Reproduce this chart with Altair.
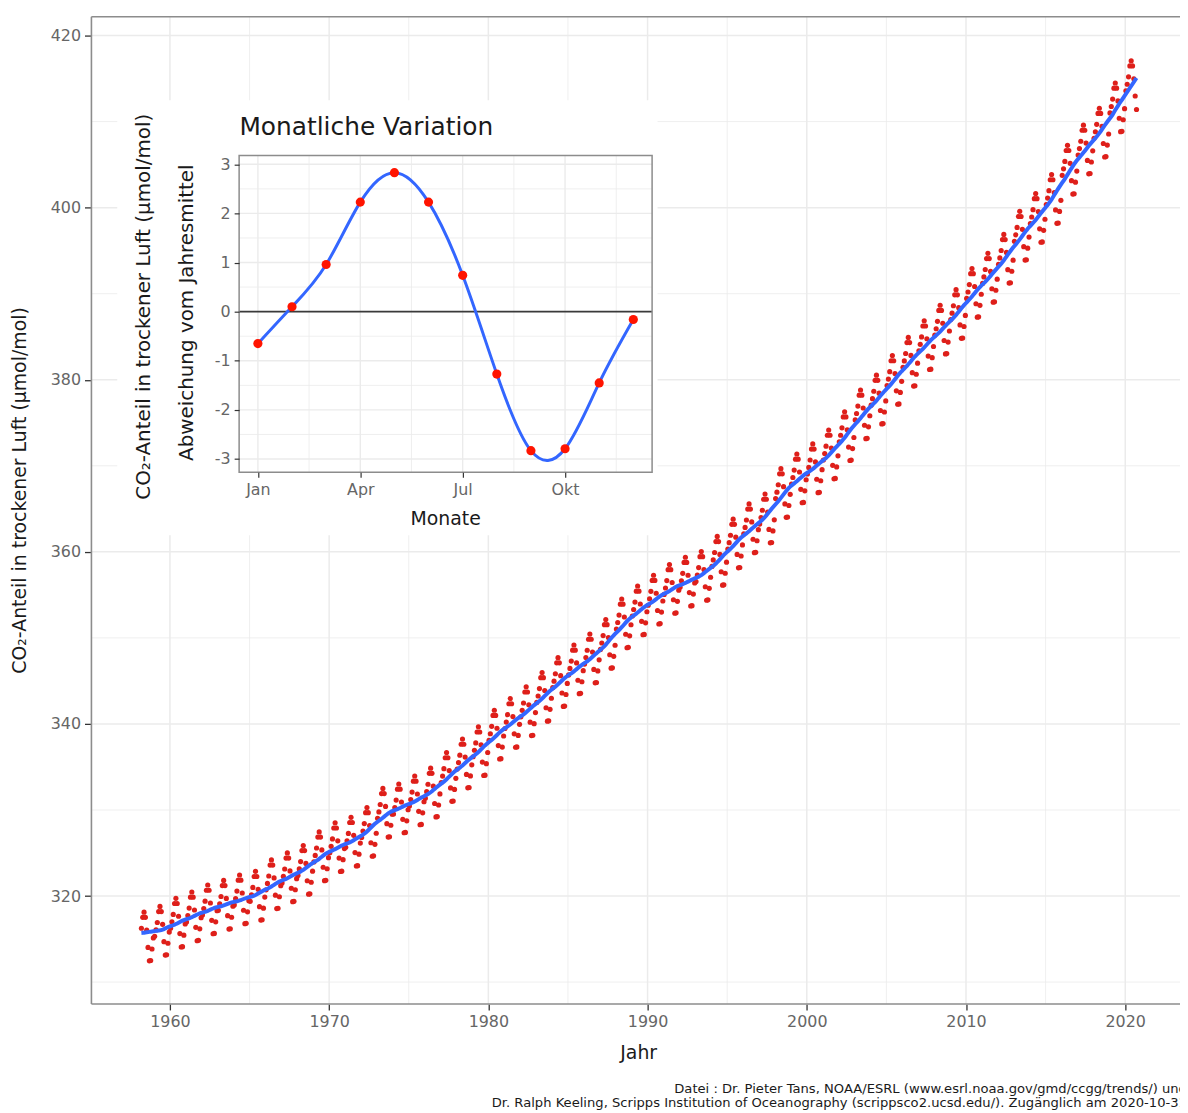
import altair as alt
import pandas as pd

# ---------------- data ----------------
years = list(range(1958, 2021))
annual_co2 = [
    315.30, 315.97, 316.91, 317.64, 318.45, 318.99, 319.62, 320.04, 321.37, 322.18,
    323.05, 324.62, 325.68, 326.32, 327.46, 329.68, 330.19, 331.12, 332.03, 333.84,
    335.41, 336.84, 338.76, 340.12, 341.48, 343.15, 344.87, 346.35, 347.61, 349.31,
    351.69, 353.20, 354.45, 355.70, 356.54, 357.21, 358.96, 360.97, 362.74, 363.88,
    366.84, 368.54, 369.71, 371.32, 373.45, 375.98, 377.70, 379.98, 382.09, 384.02,
    385.83, 387.64, 390.10, 391.85, 394.06, 396.74, 398.81, 401.01, 404.41, 406.76,
    408.72, 411.66, 414.24,
]
months = list(range(1, 13))
month_offsets = [-0.65, 0.10, 0.96, 2.23, 2.83, 2.23, 0.74, -1.27, -2.83, -2.79, -1.45, -0.16]
first_month_first_year = 3
last_month_last_year = 9

x_ticks = [1960, 1970, 1980, 1990, 2000, 2010, 2020]
x_minor = [1965, 1975, 1985, 1995, 2005, 2015]
y_ticks = [320, 340, 360, 380, 400, 420]
y_minor = [310, 330, 350, 370, 390, 410]

inset_x_ticks = [1, 4, 7, 10]
inset_x_labels = ["Jan", "Apr", "Jul", "Okt"]
inset_x_minor = [2.5, 5.5, 8.5, 11.5]
inset_y_ticks = [-3, -2, -1, 0, 1, 2, 3]
inset_y_minor = [-2.5, -1.5, -0.5, 0.5, 1.5, 2.5]

y_title = "CO₂-Anteil in trockener Luft (µmol/mol)"
inset_title = "Monatliche Variation"
inset_y_title2 = "Abweichung vom Jahresmittel"
inset_x_title = "Monate"
x_title = "Jahr"
caption1 = "Datei : Dr. Pieter Tans, NOAA/ESRL (www.esrl.noaa.gov/gmd/ccgg/trends/) und"
caption2 = "Dr. Ralph Keeling, Scripps Institution of Oceanography (scrippsco2.ucsd.edu/). Zugänglich am 2020-10-31"

# ---------------- tables ----------------
rows = []
for yr, base in zip(years, annual_co2):
    for m, off in zip(months, month_offsets):
        if yr == years[0] and m < first_month_first_year:
            continue
        if yr == years[-1] and m > last_month_last_year:
            continue
        rows.append({"t": yr + (m - 0.5) / 12, "co2": round(base + off, 2)})
monthly = pd.DataFrame(rows)
seasonal = pd.DataFrame({"month": months, "dev": month_offsets})

# ---------------- layout ----------------
FONT = "DejaVu Sans"
W, H = 1096, 994
XDOM = [1955.07, 2023.44]
YDOM = [307.46, 422.19]
IX_DOM = [0.45, 12.55]
IX_RANGE = [148.7, 564.5]
IY_DOM = [-3.27, 3.18]
IY_RANGE = [458.7, 139.7]


def xs():
    return alt.Scale(domain=XDOM, nice=False, zero=False)


def ys():
    return alt.Scale(domain=YDOM, nice=False, zero=False)


def ixs():
    return alt.Scale(domain=IX_DOM, range=IX_RANGE, nice=False, zero=False)


def iys():
    return alt.Scale(domain=IY_DOM, range=IY_RANGE, nice=False, zero=False)


GRID = "#ebebeb"
BORDER = "#8c8c8c"
LABEL = "#666666"
BLUE = "#3366FF"

one = pd.DataFrame({"k": [0]})

# ---- main panel ----
def vgrid(vals, width):
    return alt.Chart(pd.DataFrame({"v": vals})).mark_rule(color=GRID, strokeWidth=width).encode(
        x=alt.X("v:Q", scale=xs(), axis=None))


def hgrid(vals, width):
    return alt.Chart(pd.DataFrame({"v": vals})).mark_rule(color=GRID, strokeWidth=width).encode(
        y=alt.Y("v:Q", scale=ys(), axis=None))


xaxis = alt.Axis(values=x_ticks, format="d", title=None, domain=False, grid=False, orient="bottom",
                 tickColor="#333333", tickSize=6, tickWidth=1.3, labelColor=LABEL,
                 labelFont=FONT, labelFontSize=16, labelPadding=4)
yaxis = alt.Axis(values=y_ticks, format="d", title=None, domain=False, grid=False, orient="left",
                 tickColor="#333333", tickSize=7, tickWidth=1.3, labelColor=LABEL,
                 labelFont=FONT, labelFontSize=16, labelPadding=4)

dots = alt.Chart(monthly).mark_circle(color="#de1f1a", size=27, opacity=1).encode(
    x=alt.X("t:Q", scale=xs(), axis=xaxis),
    y=alt.Y("co2:Q", scale=ys(), axis=yaxis),
)
trend = alt.Chart(monthly).transform_loess("t", "co2", bandwidth=0.05).mark_line(
    color=BLUE, strokeWidth=4).encode(
    x=alt.X("t:Q", scale=xs(), axis=None),
    y=alt.Y("co2:Q", scale=ys(), axis=None),
)

main_layers = [
    vgrid(x_minor, 0.8), hgrid(y_minor, 0.8), vgrid(x_ticks, 1.5), hgrid(y_ticks, 1.5),
    dots, trend,
]

# ---- inset ----
bg = alt.Chart(one).mark_rect(color="white").encode(
    x=alt.value(26), x2=alt.value(570), y=alt.value(84), y2=alt.value(522))


def ivgrid(vals, width):
    d = pd.DataFrame({"v": vals, "a": IY_DOM[0], "b": IY_DOM[1]})
    return alt.Chart(d).mark_rule(color=GRID, strokeWidth=width).encode(
        x=alt.X("v:Q", scale=ixs(), axis=None),
        y=alt.Y("a:Q", scale=iys(), axis=None), y2="b:Q")


def ihgrid(vals, width):
    d = pd.DataFrame({"v": vals, "a": IX_DOM[0], "b": IX_DOM[1]})
    return alt.Chart(d).mark_rule(color=GRID, strokeWidth=width).encode(
        y=alt.Y("v:Q", scale=iys(), axis=None),
        x=alt.X("a:Q", scale=ixs(), axis=None), x2="b:Q")


zero_line = alt.Chart(pd.DataFrame({"v": [0], "a": IX_DOM[0], "b": IX_DOM[1]})).mark_rule(
    color="#3a3a3a", strokeWidth=1.8).encode(
    y=alt.Y("v:Q", scale=iys(), axis=None),
    x=alt.X("a:Q", scale=ixs(), axis=None), x2="b:Q")

label_js = "[" + ",".join("'%s'" % s for s in inset_x_labels) + "]"
ixaxis = alt.Axis(values=inset_x_ticks, orient="bottom", offset=IY_RANGE[0] - H, zindex=2,
                  labelExpr=label_js + "[indexof(" + str(inset_x_ticks) + ", datum.value)]",
                  title=None, domain=False, grid=False, tickColor="#333333", tickSize=5,
                  tickWidth=1.2, labelColor=LABEL, labelFont=FONT, labelFontSize=16,
                  labelPadding=4)
iyaxis = alt.Axis(values=inset_y_ticks, orient="left", offset=-IX_RANGE[0], zindex=2,
                  labelExpr="'' + datum.value",
                  title=None, domain=False, grid=False, tickColor="#333333", tickSize=5,
                  tickWidth=1.2, labelColor=LABEL, labelFont=FONT, labelFontSize=16,
                  labelPadding=4)

spline = alt.Chart(seasonal).mark_line(color=BLUE, strokeWidth=3, interpolate="natural").encode(
    x=alt.X("month:Q", scale=ixs(), axis=None),
    y=alt.Y("dev:Q", scale=iys(), axis=None))
ipoints = alt.Chart(seasonal).mark_circle(color="#ff1400", size=85, opacity=1).encode(
    x=alt.X("month:Q", scale=ixs(), axis=ixaxis),
    y=alt.Y("dev:Q", scale=iys(), axis=iyaxis))
iborder = alt.Chart(pd.DataFrame({"a": [IX_DOM[0]], "b": [IX_DOM[1]],
                                  "c": [IY_DOM[0]], "d": [IY_DOM[1]]})).mark_rect(
    fill="white", fillOpacity=0, stroke=BORDER, strokeWidth=1.5).encode(
    x=alt.X("a:Q", scale=ixs(), axis=None), x2="b:Q",
    y=alt.Y("c:Q", scale=iys(), axis=None), y2="d:Q")

inset_layers = [
    bg, ivgrid(inset_x_minor, 0.8), ihgrid(inset_y_minor, 0.8),
    ivgrid(inset_x_ticks, 1.4), ihgrid(inset_y_ticks, 1.4),
    zero_line, spline, ipoints, iborder,
]

# ---- frame and texts ----
def frame(**enc):
    return alt.Chart(one).mark_rule(color=BORDER, strokeWidth=1.6).encode(**enc)


frames = [
    frame(x=alt.value(0), x2=alt.value(W), y=alt.value(0)),
    frame(x=alt.value(0), x2=alt.value(W), y=alt.value(H)),
    frame(x=alt.value(0), y=alt.value(0), y2=alt.value(H)),
]


def txt(s, x, y, size, color="#1a1a1a", align="center", angle=0, baseline="middle"):
    return alt.Chart(one).mark_text(
        text=s, font=FONT, fontSize=size, color=color, align=align, angle=angle,
        baseline=baseline).encode(x=alt.value(x), y=alt.value(y))


texts = [
    txt(y_title, -72, 477, 19, angle=270),
    txt(x_title, 551, 1043, 19),
    txt(caption1, 1103, 1080, 13.2, align="right"),
    txt(caption2, 1103, 1094, 13.2, align="right"),
    txt(inset_title, 149, 111, 25, align="left"),
    txt(y_title, 53, 292, 20, angle=270),
    txt(inset_y_title2, 96, 298, 20, angle=270),
    txt(inset_x_title, 356.6, 506, 19),
]

chart = alt.layer(*main_layers, *inset_layers, *frames, *texts).resolve_scale(
    x="independent", y="independent"
).properties(
    width=W, height=H,
    padding={"left": 84, "top": 5, "right": 0, "bottom": 104},
    autosize=alt.AutoSizeParams(type="none"),
).configure_view(stroke=None)

chart.save("out.html", embed_options={"renderer": "svg", "actions": False})
